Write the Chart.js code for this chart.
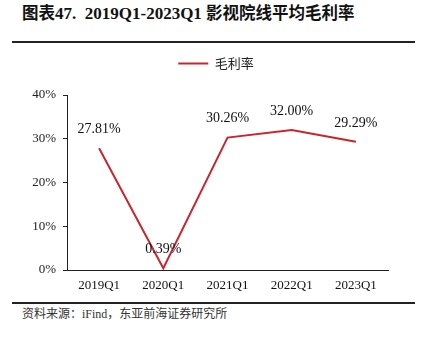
<!DOCTYPE html>
<html><head><meta charset="utf-8">
<script src="https://cdn.jsdelivr.net/npm/chart.js@4/dist/chart.umd.min.js"></script>
<style>
html,body{margin:0;padding:0;background:#fff;}
#wrap{position:relative;width:422px;height:339px;overflow:hidden;}
#title{position:absolute;left:22px;top:0px;font:bold 17px "Liberation Serif","Noto Sans CJK SC",serif;color:#111;white-space:nowrap;}
#title .cn{font-family:"Noto Sans CJK SC",sans-serif;font-weight:bold;font-size:16.5px;}
.rule{position:absolute;left:12px;width:403px;height:2px;background:#222;}
#src{position:absolute;left:22px;top:304px;font:12px "Liberation Serif","Noto Sans CJK SC",serif;color:#333;white-space:nowrap;}
#src .cn{font-family:"Noto Sans CJK SC",sans-serif;font-size:12px;}
canvas{position:absolute;left:0;top:0;}
</style></head>
<body><div id="wrap">
<div id="title"><span class="cn">图表</span>47.&nbsp;&nbsp;2019Q1-2023Q1 <span class="cn">影视院线平均毛利率</span></div>
<div class="rule" style="top:41px"></div>
<div class="rule" style="top:302px"></div>
<div id="src"><span class="cn">资料来源：</span>iFind<span class="cn">，东亚前海证券研究所</span></div>
<canvas id="c" width="422" height="339"></canvas>
</div>
<script>
const categories = ["2019Q1","2020Q1","2021Q1","2022Q1","2023Q1"];
const grossMargin = [27.81, 0.39, 30.26, 32.00, 29.29];
const seriesName = "毛利率";
const yTicks = [0, 10, 20, 30, 40];

const serif = "'Liberation Serif', 'Times New Roman', serif";

const labelPlugin = {
  id: 'valueLabels',
  afterDatasetsDraw(chart) {
    const ctx = chart.ctx;
    const meta = chart.getDatasetMeta(0);
    ctx.save();
    ctx.font = "14px " + serif;
    ctx.fillStyle = "#111";
    ctx.textAlign = "center";
    ctx.textBaseline = "middle";
    meta.data.forEach((pt, i) => {
      ctx.fillText(grossMargin[i].toFixed(2) + "%", pt.x, pt.y - 19);
    });
    ctx.restore();
  }
};

const legendShift = {
  id: 'legendShift',
  afterLayout(chart) {
    const lg = chart.legend;
    if (!lg) return;
    const dx = 22, dy = -15;
    lg.left += dx; lg.right += dx;
    lg.top += dy; lg.bottom += dy;
  }
};

new Chart(document.getElementById('c'), {
  type: 'line',
  data: {
    labels: categories,
    datasets: [{
      label: seriesName,
      data: grossMargin,
      borderColor: '#C8262F',
      backgroundColor: '#C8262F',
      borderWidth: 2,
      pointRadius: 0,
      tension: 0
    }]
  },
  options: {
    responsive: false,
    animation: false,
    layout: { padding: { top: 62, right: 34, left: 0, bottom: 0 } },
    plugins: {
      legend: {
        display: true,
        position: 'top',
        labels: {
          boxWidth: 30, boxHeight: 2, padding: 10,
          color: '#222',
          font: { family: "'Noto Sans CJK SC', sans-serif", size: 13 },
          generateLabels(chart) {
            const items = Chart.defaults.plugins.legend.labels.generateLabels(chart);
            items.forEach(it => { it.lineWidth = 0; it.strokeStyle = 'rgba(0,0,0,0)'; });
            return items;
          }
        }
      },
      tooltip: { enabled: false },
      title: { display: false }
    },
    scales: {
      x: {
        offset: true,
        grid: { display: false, drawTicks: false },
        border: { display: true, color: '#222', width: 1 },
        ticks: { color: '#111', font: { family: serif, size: 13 }, padding: 8, maxRotation: 0 },
        afterFit(s) { s.height = 69; }
      },
      y: {
        min: 0, max: 40,
        grid: { drawOnChartArea: false, drawTicks: true, tickLength: 4, color: '#222' },
        border: { display: true, color: '#222', width: 1 },
        ticks: {
          stepSize: 10, color: '#222', padding: 7,
          font: { family: serif, size: 13 },
          callback: v => yTicks.includes(v) ? v + '%' : ''
        },
        afterFit(s) { s.width = 67; }
      }
    }
  },
  plugins: [labelPlugin, legendShift]
});
</script>
</body></html>
